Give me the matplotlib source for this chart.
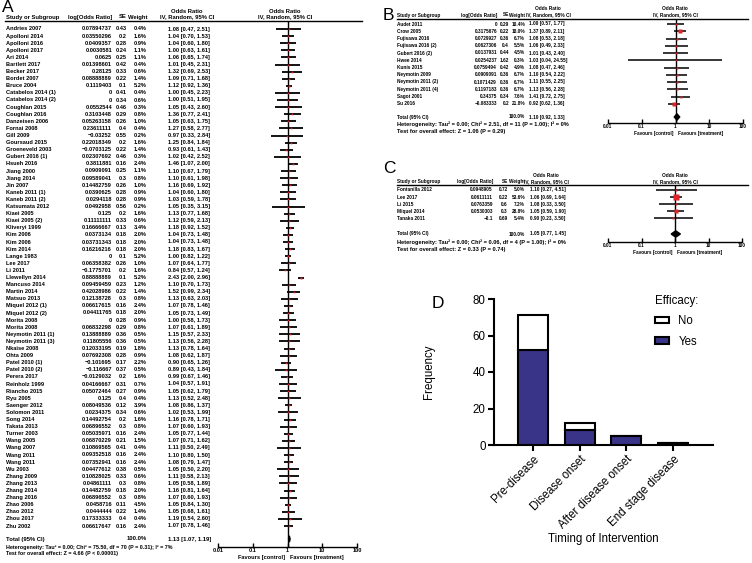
import numpy as np
import matplotlib
matplotlib.use('Agg')
import matplotlib.pyplot as plt
from matplotlib.lines import Line2D
from matplotlib.patches import Polygon
from matplotlib.ticker import NullLocator
from matplotlib.transforms import blended_transform_factory

W, H = 752, 563
red = '#e0242a'
navy = '#3a3488'
lf = 'Liberation Sans'

# A: intervention before disease
a_study = ['Andries 2007', 'Apolloni 2014', 'Apolloni 2016', 'Apolloni 2017', 'Ari 2014',
           'Bartlett 2017', 'Becker 2017', 'Bordet 2007', 'Bruce 2004', 'Catabelos 2014 (1)',
           'Catabelos 2014 (2)', 'Coughlan 2015', 'Coughlan 2016', 'Danzeisen 2006', 'Fornai 2008',
           'Gill 2009', 'Goursaud 2015', 'Groeneveld 2003', 'Gubert 2016 (1)', 'Hsueh 2016',
           'Jiang 2000', 'Jiang 2014', 'Jin 2007', 'Kaneb 2011 (1)', 'Kaneb 2011 (2)',
           'Katsumata 2012', 'Kiaei 2005', 'Kiaei 2005 (2)', 'Kliveryi 1999', 'Kim 2006',
           'Kim 2006', 'Kim 2014', 'Lange 1983', 'Lee 2017', 'Li 2011',
           'Llewellyn 2014', 'Mancuso 2014', 'Martin 2014', 'Matsuo 2013', 'Miquel 2012 (1)',
           'Miquel 2012 (2)', 'Morita 2008', 'Morita 2008', 'Neymotin 2011 (1)', 'Neymotin 2011 (3)',
           'Nkaise 2008', 'Ohta 2009', 'Patel 2010 (1)', 'Patel 2010 (2)', 'Perera 2017',
           'Reinholz 1999', 'Riancho 2015', 'Ryu 2005', 'Saenger 2012', 'Solomon 2011',
           'Song 2014', 'Takata 2013', 'Turner 2003', 'Wang 2005', 'Wang 2007',
           'Wang 2011', 'Wang 2011', 'Wu 2003', 'Zhang 2009', 'Zhang 2013',
           'Zhang 2014', 'Zhang 2016', 'Zhao 2006', 'Zhao 2012', 'Zhou 2017',
           'Zhu 2002']
a_logor = [0.07894737, 0.03550296, 0.0409357, 0.0030581, 0.0625,
           0.01398601, 0.28125, 0.08888889, 0.1119403, 0,
           0, 0.0552544, 0.3103448, 0.05263158, 0.23611111,
           -0.03252, 0.22018349, -0.0703125, 0.02307692, 0.3811881,
           0.0909091, 0.09589041, 0.14482759, 0.0390625, 0.0294118,
           0.0492958, 0.125, 0.11111111, 0.16666667, 0.0373134,
           0.03731343, 0.16216216, 0, 0.06358382, -0.1775701,
           0.88888889, 0.09459459, 0.42028986, 0.12138728, 0.06617615,
           0.04411765, 0, 0.06832298, 0.13888889, 0.11805556,
           0.12033195, 0.07692308, -0.101695, -0.116667, -0.0129032,
           0.04166667, 0.05072464, 0.125, 0.08049536, 0.0234375,
           0.14492754, 0.06896552, 0.05035971, 0.06870229, 0.10869565,
           0.09352518, 0.07352941, 0.04477612, 0.10828025, 0.04861111,
           0.14482759, 0.06896552, 0.0458716, 0.0444444, 0.17333333,
           0.06617647]
a_se = [0.43, 0.2, 0.28, 0.24, 0.25, 0.42, 0.33, 0.22, 0.1, 0.41,
        0.34, 0.46, 0.29, 0.26, 0.4, 0.55, 0.2, 0.22, 0.46, 0.16,
        0.25, 0.3, 0.26, 0.28, 0.28, 0.56, 0.2, 0.33, 0.13, 0.18,
        0.18, 0.18, 0.1, 0.26, 0.2, 0.1, 0.23, 0.22, 0.3, 0.16,
        0.18, 0.28, 0.29, 0.36, 0.36, 0.19, 0.28, 0.17, 0.37, 0.2,
        0.31, 0.27, 0.4, 0.12, 0.34, 0.2, 0.3, 0.16, 0.21, 0.41,
        0.16, 0.16, 0.38, 0.33, 0.3, 0.18, 0.3, 0.11, 0.22, 0.4,
        0.16]
a_weight = [0.4, 1.6, 0.9, 1.1, 1.1, 0.4, 0.6, 1.4, 5.2, 0.4,
            0.6, 0.3, 0.8, 1.0, 0.4, 0.2, 1.6, 1.4, 0.3, 2.4,
            1.1, 0.8, 1.0, 0.9, 0.9, 0.2, 1.6, 0.6, 3.4, 2.0,
            2.0, 2.0, 5.2, 1.0, 1.6, 5.2, 1.2, 1.4, 0.8, 2.4,
            2.0, 0.9, 0.8, 0.5, 0.5, 1.8, 0.9, 2.2, 0.5, 1.6,
            0.7, 0.9, 0.4, 3.9, 0.6, 1.6, 0.8, 2.4, 1.5, 0.4,
            2.4, 2.4, 0.5, 0.6, 0.8, 2.0, 0.8, 4.5, 1.4, 0.4,
            2.4]
a_or = [1.08, 1.04, 1.04, 1.00, 1.06, 1.01, 1.32, 1.09, 1.12, 1.00,
        1.00, 1.05, 1.36, 1.05, 1.27, 0.97, 1.25, 0.93, 1.02, 1.46,
        1.10, 1.10, 1.16, 1.04, 1.03, 1.05, 1.13, 1.12, 1.18, 1.04,
        1.04, 1.18, 1.00, 1.07, 0.84, 2.43, 1.10, 1.52, 1.13, 1.07,
        1.05, 1.00, 1.07, 1.15, 1.13, 1.13, 1.08, 0.90, 0.89, 0.99,
        1.04, 1.05, 1.13, 1.08, 1.02, 1.16, 1.07, 1.05, 1.07, 1.11,
        1.10, 1.08, 1.05, 1.11, 1.05, 1.16, 1.07, 1.05, 1.05, 1.19,
        1.07]
a_lo = [0.47, 0.70, 0.60, 0.63, 0.65, 0.45, 0.69, 0.71, 0.92, 0.45,
        0.51, 0.43, 0.77, 0.63, 0.58, 0.33, 0.84, 0.61, 0.42, 1.07,
        0.67, 0.61, 0.69, 0.60, 0.59, 0.35, 0.77, 0.59, 0.92, 0.73,
        0.73, 0.83, 0.82, 0.64, 0.57, 2.00, 0.70, 0.99, 0.63, 0.78,
        0.73, 0.58, 0.61, 0.57, 0.56, 0.78, 0.62, 0.65, 0.43, 0.67,
        0.57, 0.62, 0.52, 0.86, 0.53, 0.78, 0.60, 0.77, 0.71, 0.50,
        0.80, 0.79, 0.50, 0.58, 0.58, 0.81, 0.60, 0.84, 0.68, 0.54,
        0.78]
a_hi = [2.51, 1.53, 1.80, 1.61, 1.74, 2.31, 2.53, 1.68, 1.36, 2.23,
        1.95, 2.60, 2.41, 1.75, 2.77, 2.84, 1.84, 1.43, 2.52, 2.00,
        1.79, 1.98, 1.92, 1.80, 1.78, 3.15, 1.68, 2.13, 1.52, 1.48,
        1.48, 1.67, 1.22, 1.77, 1.24, 2.96, 1.73, 2.34, 2.03, 1.46,
        1.49, 1.73, 1.89, 2.33, 2.28, 1.64, 1.87, 1.26, 1.84, 1.46,
        1.91, 1.79, 2.48, 1.37, 1.99, 1.71, 1.93, 1.44, 1.62, 2.49,
        1.50, 1.47, 2.20, 2.13, 1.89, 1.64, 1.93, 1.30, 1.61, 2.60,
        1.46]
a_total = [1.13, 1.07, 1.19]
a_het = 'Heterogeneity: Tau\u00b2 = 0.00; Chi\u00b2 = 75.50, df = 70 (P = 0.31); I\u00b2 = 7%'
a_test = 'Test for overall effect: Z = 4.66 (P < 0.00001)'

# B: intervention at disease onset
b_study = ['Audet 2011', 'Crow 2005', 'Fujisawa 2016', 'Fujisawa 2016 (2)', 'Gubert 2016 (2)',
           'Hwee 2014', 'Kunis 2015', 'Neymotin 2009', 'Neymotin 2011 (2)', 'Neymotin 2011 (4)',
           'Sagot 2001', 'Su 2016']
b_logor = [0, 0.3175676, 0.0729927, 0.0627306, 0.0137931, 0.0254237, 0.0759494,
           0.0909091, 0.1071429, 0.1197183, 0.34375, -0.083333]
b_se = [0.29, 0.22, 0.36, 0.4, 0.44, 1.62, 0.42, 0.36, 0.36, 0.36, 0.34, 0.2]
b_weight = [10.4, 18.0, 6.7, 5.5, 4.5, 0.3, 4.9, 6.7, 6.7, 6.7, 7.6, 21.8]
b_or = [1.00, 1.37, 1.08, 1.06, 1.01, 1.03, 1.08, 1.10, 1.11, 1.13, 1.41, 0.92]
b_lo = [0.57, 0.89, 0.53, 0.49, 0.43, 0.04, 0.47, 0.54, 0.55, 0.56, 0.72, 0.62]
b_hi = [1.77, 2.11, 2.18, 2.33, 2.40, 24.55, 2.46, 2.22, 2.25, 2.28, 2.75, 1.36]
b_total = [1.10, 0.92, 1.33]
b_het = 'Heterogeneity: Tau\u00b2 = 0.00; Chi\u00b2 = 2.51, df = 11 (P = 1.00); I\u00b2 = 0%'
b_test = 'Test for overall effect: Z = 1.06 (P = 0.29)'

# C: intervention after disease onset
c_study = ['Fontanilla 2012', 'Lee 2017', 'Li 2015', 'Miquel 2014', 'Tanaka 2011']
c_logor = [0.0948905, 0.0611111, 0.0763359, 0.0530303, -0.1]
c_se = [0.72, 0.22, 0.6, 0.3, 0.69]
c_weight = [5.0, 53.6, 7.2, 28.8, 5.4]
c_or = [1.10, 1.06, 1.08, 1.05, 0.90]
c_lo = [0.27, 0.69, 0.33, 0.59, 0.23]
c_hi = [4.51, 1.64, 3.50, 1.90, 3.50]
c_total = [1.05, 0.77, 1.45]
c_het = 'Heterogeneity: Tau\u00b2 = 0.00; Chi\u00b2 = 0.06, df = 4 (P = 1.00); I\u00b2 = 0%'
c_test = 'Test for overall effect: Z = 0.33 (P = 0.74)'

# D: counts by timing
d_timing = ['Pre-disease', 'Disease onset', 'After disease onset', 'End stage disease']
d_yes = [52, 8, 5, 1]
d_no = [19, 4, 0, 0]


def fx(px):
    return px / W


def fy(py):
    return 1 - py / H


def num(v):
    s = str(v)
    if s.endswith('.0'):
        s = s[:-2]
    return s.replace('-', '\u2212')


def ci(o, l, h):
    return '%.2f [%.2f, %.2f]' % (o, l, h)


def forest(study, logor, se, weight, orr, lo, hi, total, het, test, box, rows, cols, sizes, lw):
    left, right, top, bottom = box
    y0, dy, ytot, yhet, ytest, yhead, yor = rows
    xname, xlog, xse, xw, xci, xcih, xplot, lx0, lx1 = cols
    fs, fsh, fsf = sizes

    ax = fig.add_axes([fx(left), fy(bottom), fx(right) - fx(left), fy(top) - fy(bottom)])
    ax.patch.set_alpha(0)
    ax.set_xscale('log')
    ax.set_xlim(0.01, 100)
    ax.set_ylim(bottom, top)
    for s in ['top', 'left', 'right']:
        ax.spines[s].set_visible(False)
    ax.spines['bottom'].set_linewidth(1.0)
    ax.set_yticks([])
    ax.set_xticks([0.01, 0.1, 1, 10, 100])
    ax.set_xticklabels(['0.01', '0.1', '1', '10', '100'], family=lf, fontweight='bold')
    ax.xaxis.set_minor_locator(NullLocator())
    ax.tick_params(axis='x', direction='in', length=3, width=1.0, pad=1.0, labelsize=fs)

    ax.axvline(1, color='k', lw=1.0)
    ys = y0 + dy * np.arange(len(study))
    ax.hlines(ys, lo, hi, color='k', lw=lw)
    for i in range(len(study)):
        side = max(0.85 * np.sqrt(weight[i]), 1.6)
        ax.plot(orr[i], ys[i], 's', ms=side * 0.72, color=red, mec='none')
    hh = 0.45 * dy
    ax.add_patch(Polygon([(total[1], ytot), (total[0], ytot - hh), (total[2], ytot),
                          (total[0], ytot + hh)], closed=True, color='k', clip_on=False))

    fav = dict(xycoords=('data', 'axes fraction'), xytext=(0, -7.5), textcoords='offset points',
               va='center', fontsize=fs, family=lf, fontweight='bold')
    ax.annotate('Favours [control]', xy=(0.85, 0), ha='right', **fav)
    ax.annotate('Favours [treatment]', xy=(1.15, 0), ha='left', **fav)

    tr = blended_transform_factory(fig.transFigure, ax.transData)
    kw = dict(transform=tr, va='center', fontsize=fs, family=lf, fontweight='bold')
    bk = dict(kw, fontsize=fsh)
    ft = dict(kw, fontsize=fsf)
    ax.text(fx(xname), yhead, 'Study or Subgroup', ha='left', **bk)
    ax.text(fx(xlog), yhead, 'log[Odds Ratio]', ha='right', **bk)
    ax.text(fx(xse), yhead, 'SE', ha='right', **bk)
    ax.text(fx(xw), yhead, 'Weight', ha='right', **bk)
    ax.text(fx(xcih), yhead, 'IV, Random, 95% CI', ha='center', **bk)
    ax.text(fx(xcih), yor, 'Odds Ratio', ha='center', **bk)
    ax.text(fx(xplot), yhead, 'IV, Random, 95% CI', ha='center', **bk)
    ax.text(fx(xplot), yor, 'Odds Ratio', ha='center', **bk)
    for i in range(len(study)):
        ax.text(fx(xname), ys[i], study[i], ha='left', **kw)
        ax.text(fx(xlog), ys[i], num(logor[i]), ha='right', **kw)
        ax.text(fx(xse), ys[i], num(se[i]), ha='right', **kw)
        ax.text(fx(xw), ys[i], '%.1f%%' % weight[i], ha='right', **kw)
        ax.text(fx(xci), ys[i], ci(orr[i], lo[i], hi[i]), ha='left', **kw)
    ax.text(fx(xname), ytot, 'Total (95% CI)', ha='left', **bk)
    ax.text(fx(xw), ytot, '100.0%', ha='right', **bk)
    ax.text(fx(xci), ytot, ci(*total), ha='left', **bk)
    ax.text(fx(xname), yhet, het, ha='left', **ft)
    ax.text(fx(xname), ytest, test, ha='left', **ft)

    fig.add_artist(Line2D([fx(lx0), fx(lx1)], [fy(top), fy(top)], transform=fig.transFigure,
                          color='k', lw=1.0))
    return ax


fig = plt.figure(figsize=(W / 100, H / 100), dpi=100)

forest(a_study, a_logor, a_se, a_weight, a_or, a_lo, a_hi, a_total, a_het, a_test,
       (218, 357, 21, 547), (29, 7.1, 539, 547, 554, 17, 11.5),
       (6, 112, 127, 147, 168, 187, 285, 5, 362), (4.05, 4.2, 3.9), 1.3)
forest(b_study, b_logor, b_se, b_weight, b_or, b_lo, b_hi, b_total, b_het, b_test,
       (608, 743, 18.5, 123), (24, 7.25, 117, 124, 131, 15, 8.5),
       (397, 497, 509, 525, 529, 548, 675, 397, 748), (3.45, 3.4, 4.1), 1.1)
forest(c_study, c_logor, c_se, c_weight, c_or, c_lo, c_hi, c_total, c_het, c_test,
       (608, 742, 185, 242), (190, 7.1, 234, 242, 250, 182, 175.5),
       (397, 493, 508, 525, 530, 546, 675, 397, 748), (3.45, 3.4, 4.1), 1.1)

fig.text(fx(2), fy(12), 'A', fontsize=12.5, family=lf)
fig.text(fx(383), fy(20), 'B', fontsize=12.5, family=lf)
fig.text(fx(383), fy(173), 'C', fontsize=12.5, family=lf)
fig.text(fx(432), fy(308), 'D', fontsize=12.5, family=lf)

# D: stacked bars
ax = fig.add_axes([fx(494), fy(445), fx(713) - fx(494), fy(299) - fy(445)])
x = np.arange(len(d_timing))
yes = ax.bar(x, d_yes, 0.64, color=navy, edgecolor='k', lw=1.5)
no = ax.bar(x, d_no, 0.64, bottom=d_yes, color='white', edgecolor='k', lw=1.5)
ax.set_xlim(-0.83, 3.85)
ax.set_ylim(0, 80)
ax.set_yticks([0, 20, 40, 60, 80])
ax.set_xticks(x)
ax.set_xticklabels(d_timing, rotation=45, ha='right', rotation_mode='anchor', family=lf)
for t in ax.get_yticklabels():
    t.set_family(lf)
for s in ['top', 'right']:
    ax.spines[s].set_visible(False)
for s in ['left', 'bottom']:
    ax.spines[s].set_linewidth(1.5)
ax.tick_params(direction='out', length=4, width=1.5, labelsize=8.3, pad=2)
ax.set_ylabel('Frequency', fontsize=8.3, family=lf)
ax.yaxis.set_label_coords(-0.27, 0.5)
ax.set_xlabel('Timing of Intervention', fontsize=8.3, family=lf)
ax.xaxis.set_label_coords(0.5, -0.6)
fig.legend([no, yes], ['No', 'Yes'], title='Efficacy:', loc='upper left',
           bbox_to_anchor=(fx(645), fy(285)), frameon=False, handlelength=1.2,
           handleheight=0.45, handletextpad=0.8, labelspacing=0.7, alignment='left',
           prop={'family': lf, 'size': 8.3}, title_fontproperties={'family': lf, 'size': 8.3})

fig.savefig('out.png', dpi=100)
